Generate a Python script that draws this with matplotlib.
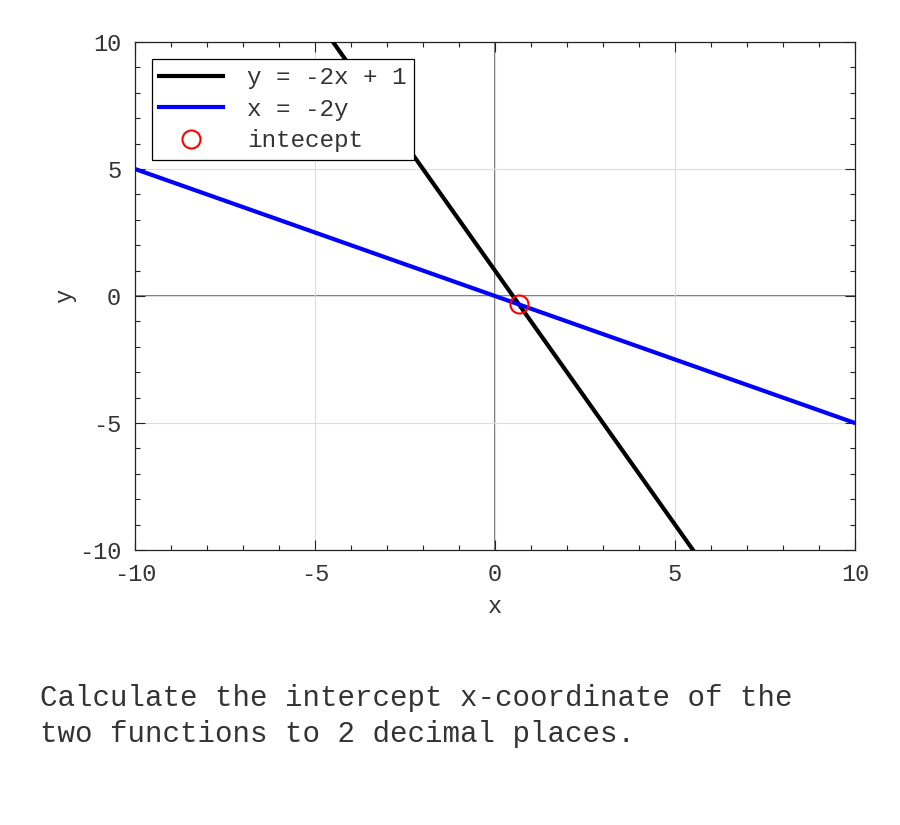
import numpy as np
import matplotlib.pyplot as plt
from matplotlib.ticker import MultipleLocator

plt.rcParams['font.family'] = ['Liberation Mono', 'DejaVu Sans Mono']
plt.rcParams['axes.unicode_minus'] = False

# data
x_range = np.array([-10.0, 10.0])
slope_1, icpt_1 = -2.0, 1.0       # y = -2x + 1
slope_2 = -0.5                    # x = -2y  ->  y = -x/2
intercept_x = [2.0 / 3.0]
intercept_y = [-1.0 / 3.0]
labels = ['y = -2x + 1', 'x = -2y', 'intecept']
question = 'Calculate the intercept x-coordinate of the\ntwo functions to 2 decimal places.'

txt = '#333333'

fig = plt.figure(figsize=(9, 8.25), dpi=100)
ax = fig.add_axes([0.15, 0.3333, 0.80, 0.6158])

ax.axhline(0, color='#555555', lw=1.1, zorder=1)
ax.axvline(0, color='#555555', lw=1.1, zorder=1)
ax.plot(x_range, slope_1 * x_range + icpt_1, color='black', lw=3, label=labels[0], zorder=3)
ax.plot(x_range, slope_2 * x_range, color='#0000ff', lw=3, label=labels[1], zorder=3)
ax.plot(intercept_x, intercept_y, 'o', mfc='none', mec='red', mew=1.5, ms=13, label=labels[2], zorder=4)

ax.set_xlim(-10, 10)
ax.set_ylim(-10, 10)
ax.xaxis.set_major_locator(MultipleLocator(5))
ax.yaxis.set_major_locator(MultipleLocator(5))
ax.xaxis.set_minor_locator(MultipleLocator(1))
ax.yaxis.set_minor_locator(MultipleLocator(1))
ax.grid(True, which='major', color='#dddddd', lw=0.8, zorder=0)
ax.tick_params(which='both', direction='in', top=True, right=True, colors='#222222',
               labelsize=17, labelcolor=txt)
ax.tick_params(which='major', length=7, width=0.8)
ax.tick_params(which='minor', length=3.5, width=0.8)
ax.tick_params(axis='x', which='major', pad=9)
ax.tick_params(axis='y', which='major', pad=10)
for s in ax.spines.values():
    s.set_linewidth(0.9)
    s.set_color('#222222')

ax.set_xlabel('x', fontsize=17, color=txt, labelpad=7)
ax.set_ylabel('y', fontsize=17, color=txt, labelpad=2)

leg = ax.legend(loc='upper left', fontsize=17.5, fancybox=False, framealpha=1,
                edgecolor='black', borderpad=0.3, labelspacing=0.35,
                handlelength=2.6, handletextpad=1.0, borderaxespad=0.7)
leg.get_frame().set_linewidth(0.9)
for t in leg.get_texts():
    t.set_color(txt)

fig.text(40 / 900, 1 - 716 / 825, question, fontsize=21, color=txt,
         va='center', ha='left', linespacing=1.38)

fig.savefig('out.png', dpi=100)
